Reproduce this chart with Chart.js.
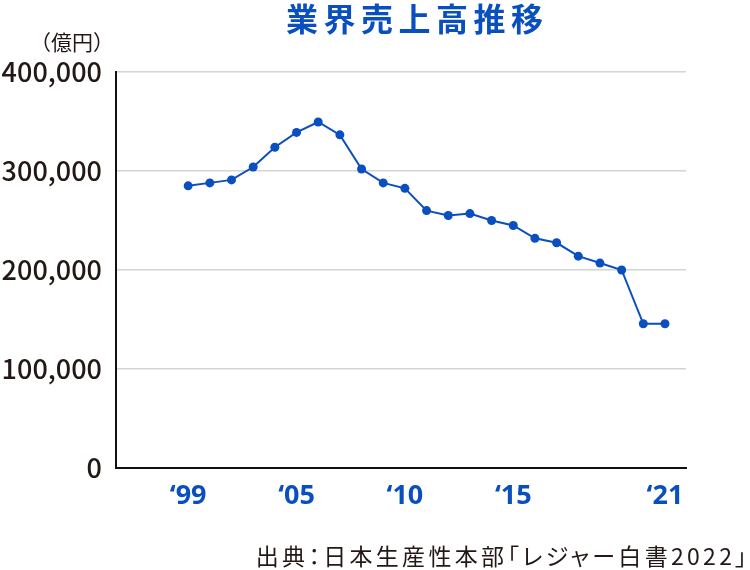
<!DOCTYPE html>
<html lang="ja">
<head>
<meta charset="utf-8">
<script src="https://cdn.jsdelivr.net/npm/chart.js@4.4.1/dist/chart.umd.min.js"></script>
<style>
  html, body { margin: 0; padding: 0; background: #fff; }
  #wrap { position: relative; width: 750px; height: 570px; overflow: hidden; }
  #c { position: absolute; left: 0; top: 0; }
  .txt { position: absolute; white-space: nowrap; font-family: "Noto Sans CJK JP", "Noto Sans", sans-serif; }
  #title { left: 286px; top: -6px; font-size: 32px; font-weight: 700; color: #0a4fbf; letter-spacing: 5.5px; }
  #unit { left: 30px; top: 26px; font-size: 21px; color: #231815; }
  #src { right: 0px; top: 538px; font-size: 23px; color: #231815; letter-spacing: 3.3px; font-feature-settings: "palt"; }
</style>
</head>
<body>
<div id="wrap">
  <canvas id="c" width="750" height="570"></canvas>
  <div class="txt" id="title">業界売上高推移</div>
  <div class="txt" id="unit">（億円）</div>
  <div class="txt" id="src">出典：日本生産性本部「レジャー白書2022」</div>
</div>
<script>
const years = [1999, 2000, 2001, 2002, 2003, 2004, 2005, 2006, 2007, 2008, 2009, 2010,
               2011, 2012, 2013, 2014, 2015, 2016, 2017, 2018, 2019, 2020, 2021];
const sales = [285000, 288000, 291000, 304000, 324000, 339000, 349500, 336500, 302000, 288000, 282500, 260000,
               255000, 257000, 250000, 245000, 232000, 227500, 214000, 207000, 200000, 145700, 145700];
const tickYears = [1999, 2004, 2009, 2014, 2021];
const tickLabels = ["\u201899", "\u201805", "\u201810", "\u201815", "\u201821"];
const yTicks = [0, 100000, 200000, 300000, 400000];

const blue = "#0a4fbf";

new Chart(document.getElementById("c"), {
  type: "line",
  data: {
    datasets: [{
      data: years.map((y, i) => ({ x: y, y: sales[i] })),
      borderColor: blue,
      backgroundColor: blue,
      borderWidth: 2,
      pointRadius: 4.5,
      pointBackgroundColor: blue,
      pointBorderWidth: 0,
      tension: 0
    }]
  },
  options: {
    responsive: false,
    animation: false,
    layout: { padding: { left: 0, right: 64, top: 72, bottom: 0 } },
    plugins: { legend: { display: false }, tooltip: { enabled: false } },
    scales: {
      x: {
        type: "linear",
        min: 1995.67,
        max: 2021.97,
        afterBuildTicks: (s) => { s.ticks = tickYears.map(v => ({ value: v })); },
        afterFit: (s) => { s.height = 102; },
        grid: { display: false, drawTicks: false },
        border: { display: true, color: "#111", width: 2 },
        ticks: {
          autoSkip: false,
          maxRotation: 0,
          padding: 12,
          color: blue,
          font: { family: "'Noto Sans'", size: 27, weight: "bold" },
          callback: (v) => { const i = tickYears.indexOf(v); return i >= 0 ? tickLabels[i] : ""; }
        }
      },
      y: {
        min: 0,
        max: 400000,
        afterBuildTicks: (s) => { s.ticks = yTicks.map(v => ({ value: v })); },
        afterFit: (s) => { s.width = 116; },
        grid: { color: "#d4d4d4", lineWidth: 1.5, drawTicks: false },
        border: { display: true, color: "#111", width: 2 },
        ticks: {
          padding: 14,
          color: "#231815",
          font: { family: "'Noto Sans CJK JP'", size: 27, weight: 500 },
          callback: (v) => v.toLocaleString("en-US")
        }
      }
    }
  }
});
</script>
</body>
</html>
